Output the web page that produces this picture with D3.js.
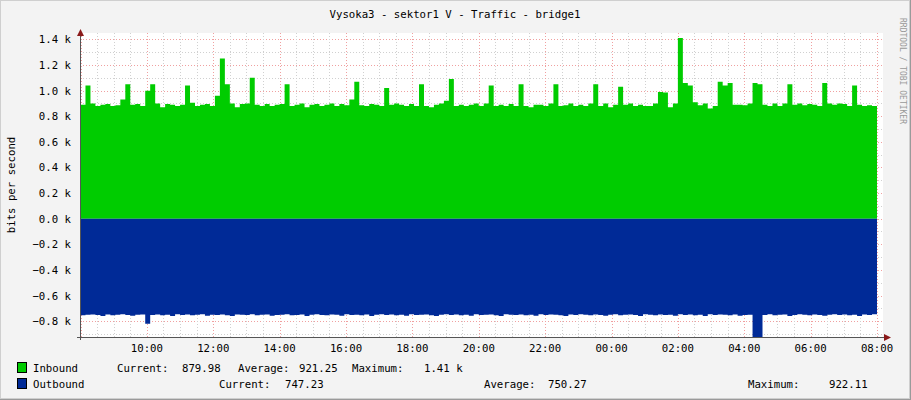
<!DOCTYPE html>
<meta charset="utf-8">
<script src="https://d3js.org/d3.v7.min.js"></script>
<style>body{margin:0;background:#f3f3f3}svg text{font-family:"DejaVu Sans Mono",monospace;font-size:10.7px;fill:#000}</style>
<svg id="chart"></svg>
<script>
// inbound / outbound bits per second, one value per ~9 minutes from 08:00 to 08:00
const inbound = [890,1040,900,880,890,895,880,885,930,1050,890,895,880,1000,1050,900,870,895,890,880,
890,1040,905,880,890,895,880,960,1250,1050,900,870,895,900,1100,890,880,895,880,890,
895,1050,880,890,900,870,890,895,880,890,900,880,895,885,930,1070,885,880,895,890,
880,1020,890,900,890,880,895,880,1050,880,870,890,900,920,1090,880,890,880,890,900,
880,900,1040,880,890,880,895,880,1050,880,870,890,890,880,900,1050,880,885,900,880,
890,880,900,1050,880,900,870,890,1030,890,900,880,890,880,880,900,990,985,870,900,
1410,1060,1040,910,885,900,860,880,1070,1040,1060,890,890,885,900,1060,1050,890,880,900,
880,900,1050,890,900,885,895,890,880,1060,900,890,900,895,880,1040,890,880,885,880];
const outbound = [755,750,748,752,760,748,755,750,746,752,758,750,748,820,752,748,755,750,760,746,
752,748,755,750,746,758,750,752,748,755,760,748,750,752,746,755,750,748,758,752,
750,746,755,752,748,760,750,746,752,755,748,750,758,746,752,750,755,748,760,750,
746,752,748,755,750,758,746,752,750,748,755,760,750,746,752,748,755,750,758,746,
752,750,748,755,760,746,750,752,748,755,750,758,746,752,748,750,755,760,748,752,
746,750,755,748,752,758,750,746,755,750,748,752,760,746,750,755,748,752,750,758,
746,752,748,755,750,760,746,752,748,750,755,748,758,752,750,930,930,752,746,755,
750,748,760,752,746,750,755,748,752,758,750,746,752,748,755,750,760,748,752,747];
const yTicks = [-0.8,-0.6,-0.4,-0.2,0,0.2,0.4,0.6,0.8,1.0,1.2,1.4];
const title = "Vysoka3 - sektor1 V - Traffic - bridge1";
const inLegend = ["Inbound", "Current:", "879.98", "Average:", "921.25", "Maximum:", "1.41 k"];
const outLegend = ["Outbound", "Current:", "747.23", "Average:", "750.27", "Maximum:", "922.11"];

const W = 911, H = 400;
const svg = d3.select("#chart").attr("width", W).attr("height", H);
svg.append("rect").attr("x",0.5).attr("y",0.5).attr("width",W-2).attr("height",H-2)
  .attr("fill","#f3f3f3").attr("stroke","#cfcfcf");
svg.append("line").attr("x1",W-0.5).attr("x2",W-0.5).attr("y1",0).attr("y2",H).attr("stroke","#9a9a9a");
svg.append("line").attr("x1",0).attr("x2",W).attr("y1",H-0.5).attr("y2",H-0.5).attr("stroke","#9a9a9a");

const t0 = new Date(2020,0,1,8,0), t1 = new Date(2020,0,2,8,0);
const x = d3.scaleTime().domain([t0, t1]).range([80.5, 877]);
const y = d3.scaleLinear().domain([-0.92, 1.45]).range([336.5, 33]);
const step = (t1 - t0) / inbound.length;
const tAt = i => new Date(+t0 + i * step);

svg.append("rect").attr("x",80).attr("y",33).attr("width",803).attr("height",304).attr("fill","#fff");

// grid
const g = svg.append("g").attr("stroke-dasharray","1,2").attr("stroke-width",1);
d3.range(-0.9, 1.45, 0.1).forEach(v => {
  const major = Math.abs(Math.round(v*10) % 2) === 0;
  g.append("line").attr("x1",80).attr("x2",883)
    .attr("y1",Math.round(y(v))+0.5).attr("y2",Math.round(y(v))+0.5)
    .attr("stroke", major ? "#f0a0a0" : "#d0d0d0");
});
d3.timeMinute.every(30).range(t0, new Date(+t1+1)).forEach(d => {
  const major = d.getMinutes() === 0 && d.getHours() % 2 === 0;
  g.append("line").attr("x1",Math.round(x(d))+0.5).attr("x2",Math.round(x(d))+0.5)
    .attr("y1",33).attr("y2",337).attr("stroke", major ? "#f0a0a0" : "#d0d0d0");
});

// areas
const idx = d3.range(inbound.length + 1);
const inArea = d3.area().curve(d3.curveStepAfter)
  .x(i => x(tAt(i))).y0(y(0)).y1(i => y(inbound[Math.min(i, inbound.length-1)]/1000));
const outArea = d3.area().curve(d3.curveStepAfter)
  .x(i => x(tAt(i))).y0(y(0)).y1(i => y(-outbound[Math.min(i, outbound.length-1)]/1000));
svg.append("path").datum(idx).attr("d", inArea).attr("fill","#00cc00");
svg.append("path").datum(idx).attr("d", outArea).attr("fill","#002a97");

// axes
svg.append("line").attr("x1",80.5).attr("x2",80.5).attr("y1",30).attr("y2",340).attr("stroke","#555");
svg.append("line").attr("x1",77).attr("x2",890).attr("y1",337.5).attr("y2",337.5).attr("stroke","#555");
svg.append("path").attr("d","M77,36 L80.5,29 L84,36 Z").attr("fill","#8b1a1a");
svg.append("path").attr("d","M884,334 L891,337.5 L884,341 Z").attr("fill","#8b1a1a");

svg.selectAll(".yt").data(yTicks).enter().append("text")
  .attr("x",71).attr("y",d => y(d)+4).attr("text-anchor","end")
  .text(d => d3.format(".1f")(d) + " k");
svg.selectAll(".xt").data(d3.timeHour.every(2).range(new Date(2020,0,1,10), new Date(+t1+1)))
  .enter().append("text").attr("x",d => x(d)).attr("y",352).attr("text-anchor","middle")
  .text(d3.timeFormat("%H:%M"));

svg.append("text").attr("x",455).attr("y",18).attr("text-anchor","middle").text(title);
svg.append("text").attr("transform","translate(15,185) rotate(-90)").attr("text-anchor","middle").text("bits per second");
svg.append("text").attr("transform","translate(900,18) rotate(90)").style("font-size","8px").style("fill","#999")
  .text("RRDTOOL / TOBI OETIKER");

// legend
[[inLegend,"#00cc00",372,[33,117,182,238,299,352,424]],
 [outLegend,"#002a97",388,[33,219,285,484,548,748,829]]].forEach(([lab,c,ly,xs]) => {
  svg.append("rect").attr("x",17.5).attr("y",ly-9.5).attr("width",9).attr("height",10).attr("fill",c).attr("stroke","#000");
  lab.forEach((s,i) => svg.append("text").attr("x",xs[i]).attr("y",ly).text(s));
});
</script>
